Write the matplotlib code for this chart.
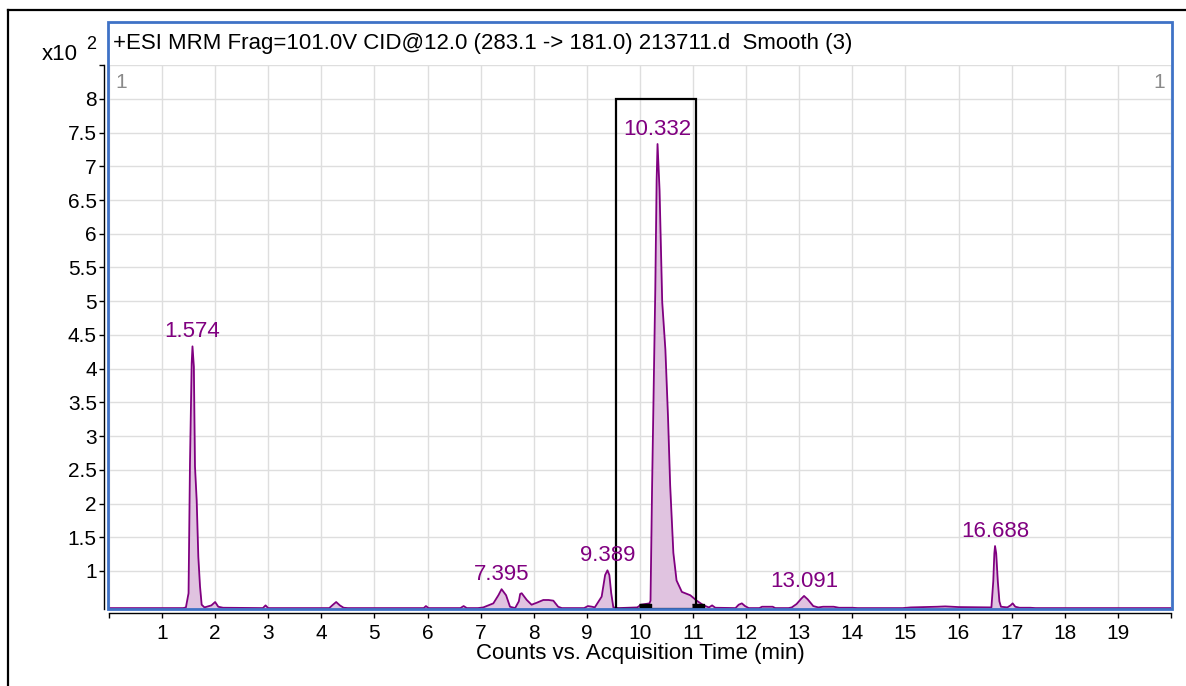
# -*- coding:utf-8 -*-
"""
MRM chromatogram, +ESI 283.1 -> 181.0, smoothed trace with integration box
"""
import numpy as np
import matplotlib
matplotlib.use('Agg')
import matplotlib.pyplot as plt
from matplotlib.patches import Rectangle
from matplotlib.lines import Line2D

plt.rcParams['font.family'] = ['Liberation Sans', 'DejaVu Sans']

# trace: acquisition time (min) vs counts (x10^2)
time_min = [0.0, 1.40, 1.45, 1.50, 1.527, 1.559, 1.574, 1.60, 1.621, 1.653, 1.684, 1.716, 1.747, 1.80,
            1.93, 2.00, 2.06, 2.15, 2.90, 2.95, 3.00, 4.15, 4.22, 4.28, 4.35, 4.42, 4.50,
            5.93, 5.97, 6.02, 6.62, 6.68, 6.74, 6.95, 7.05, 7.24, 7.335, 7.395, 7.48, 7.554, 7.65,
            7.72, 7.745, 7.774, 7.87, 7.96, 8.06, 8.18, 8.28, 8.37, 8.46, 8.53,
            8.95, 9.02, 9.10, 9.15, 9.28, 9.345, 9.389, 9.425, 9.46, 9.50, 9.60,
            9.95, 10.02, 10.10, 10.18, 10.20, 10.23, 10.26, 10.29, 10.315, 10.332, 10.37, 10.42,
            10.48, 10.53, 10.57, 10.63, 10.69, 10.79, 10.95, 11.07, 11.20, 11.30, 11.36, 11.42,
            11.80, 11.86, 11.92, 11.98, 12.05, 12.25, 12.30, 12.50, 12.55,
            12.80, 12.86, 12.95, 13.04, 13.091, 13.16, 13.265, 13.36, 13.45, 13.65, 13.75, 14.0, 14.1,
            14.95, 15.1, 15.6, 15.75, 16.0, 16.55, 16.62, 16.655, 16.675, 16.688, 16.71, 16.74, 16.77,
            16.80, 16.92, 16.98, 17.02, 17.07, 17.15, 17.35, 17.45, 20.0]
counts_e2 = [0.45, 0.45, 0.46, 0.67, 2.60, 4.08, 4.33, 4.03, 2.55, 2.05, 1.21, 0.77, 0.50, 0.46,
             0.49, 0.54, 0.47, 0.455, 0.45, 0.49, 0.45, 0.45, 0.50, 0.54, 0.49, 0.455, 0.45,
             0.45, 0.48, 0.45, 0.45, 0.48, 0.45, 0.45, 0.46, 0.52, 0.64, 0.73, 0.64, 0.47, 0.45,
             0.55, 0.66, 0.67, 0.57, 0.50, 0.53, 0.57, 0.57, 0.56, 0.47, 0.45,
             0.45, 0.48, 0.47, 0.46, 0.62, 0.94, 1.01, 0.94, 0.67, 0.46, 0.45,
             0.46, 0.50, 0.51, 0.52, 0.56, 2.27, 3.77, 5.18, 6.79, 7.33, 6.65, 4.99,
             4.28, 3.27, 2.27, 1.27, 0.86, 0.69, 0.64, 0.56, 0.49, 0.46, 0.49, 0.455,
             0.45, 0.50, 0.52, 0.48, 0.45, 0.45, 0.47, 0.47, 0.45,
             0.45, 0.46, 0.51, 0.59, 0.63, 0.58, 0.48, 0.46, 0.47, 0.47, 0.455, 0.455, 0.45,
             0.45, 0.46, 0.47, 0.475, 0.465, 0.46, 0.46, 0.85, 1.26, 1.37, 1.26, 0.85, 0.55,
             0.47, 0.46, 0.49, 0.52, 0.47, 0.455, 0.455, 0.45, 0.45]

# labelled peaks (retention times)
peak_rt = [1.574, 7.395, 9.389, 10.332, 13.091, 16.688]

# integration window of the selected peak
int_window = (9.55, 11.06)
int_top = 8.0
int_marks = [10.10, 11.09]
int_mark_level = 0.465

x_ticks = list(range(0, 21))
y_ticks = [1, 1.5, 2, 2.5, 3, 3.5, 4, 4.5, 5, 5.5, 6, 6.5, 7, 7.5, 8, 8.5]

title = '+ESI MRM Frag=101.0V CID@12.0 (283.1 -> 181.0) 213711.d  Smooth (3)'
xlabel = 'Counts vs. Acquisition Time (min)'

PURPLE = '#800080'
FILL = '#e0c3e0'
BLUE = '#3f72c6'

W, H = 1186, 686
fig = plt.figure(figsize=(W / 100, H / 100), dpi=100)
fig.patch.set_facecolor('white')


def px(x, y):
    # pixel (from top-left) -> figure fraction
    return x / W, 1 - y / H


ax_l, ax_r, ax_t, ax_b = 108.9, 1170.9, 65.1, 609.3
ax = fig.add_axes([ax_l / W, 1 - ax_b / H, (ax_r - ax_l) / W, (ax_b - ax_t) / H])
ymin = 0.432
ax.set_xlim(0, 20)
ax.set_ylim(ymin, 8.5)

t = np.array(time_min)
c = np.array(counts_e2)
ax.fill_between(t, c, ymin, color=FILL, lw=0, zorder=2)
ax.plot(t, c, color=PURPLE, lw=1.3, zorder=3)

for rt in peak_rt:
    h = np.interp(rt, t, c)
    ax.annotate('%.3f' % rt, (rt, h), xytext=(0, 3), textcoords='offset points',
                ha='center', va='bottom', color=PURPLE, fontsize=16, zorder=5)

# integration box + start/end markers
ax.add_patch(Rectangle((int_window[0], ymin), int_window[1] - int_window[0], int_top - ymin,
                       fill=False, edgecolor='black', lw=1.6, zorder=4))
mark = [(-1, -0.5), (1, -0.5), (1, 0.5), (-1, 0.5)]
ax.plot(int_marks, [int_mark_level] * len(int_marks), ls='none', marker=mark,
        markersize=8, color='black', zorder=6)

ax.set_xticks(x_ticks)
ax.set_xticklabels(['' if v in (0, 20) else str(v) for v in x_ticks])
ax.set_yticks(y_ticks)
ax.set_yticklabels(['' if v == 8.5 else ('%g' % v) for v in y_ticks])
ax.grid(True, color='#dedede', lw=1.0, zorder=0)
ax.set_axisbelow(True)

for s in ('top', 'right'):
    ax.spines[s].set_visible(False)
ax.spines['left'].set_position(('outward', 3.6))
ax.spines['bottom'].set_position(('outward', 2.7))
ax.spines['left'].set_linewidth(1.0)
ax.spines['bottom'].set_linewidth(1.0)
ax.tick_params(axis='both', direction='out', length=3.6, width=1.0, labelsize=15, colors='black')
ax.tick_params(axis='y', pad=1.5)
ax.tick_params(axis='x', pad=4.0)
ax.set_xlabel(xlabel, fontsize=16)
ax.xaxis.set_label_coords(0.5, -(654 - ax_b) / (ax_b - ax_t))
ax.xaxis.label.set_va('center')

# trace numbers in the plot corners
ax.text(0.006, 0.985, '1', transform=ax.transAxes, ha='left', va='top', color='#8a8a8a', fontsize=15)
ax.text(0.994, 0.985, '1', transform=ax.transAxes, ha='right', va='top', color='#8a8a8a', fontsize=15)

# blue frame around title + plot
x0, y0 = px(108, 609.3)
x1, y1 = px(1172, 22)
fig.add_artist(Rectangle((x0, y0), x1 - x0, y1 - y0, transform=fig.transFigure,
                         fill=False, edgecolor=BLUE, lw=2.0, zorder=10))
fig.text(*px(113, 43), title, ha='left', va='center', fontsize=16)

# y multiplier
fig.text(*px(42, 60), 'x10', ha='left', va='baseline', fontsize=16)
fig.text(*px(86, 49), '2', ha='left', va='baseline', fontsize=13)

# outer black frame
fig.add_artist(Line2D([px(8, 0)[0], 1.0], [px(0, 10)[1]] * 2, transform=fig.transFigure,
                      color='black', lw=1.6))
fig.add_artist(Line2D([px(8, 0)[0]] * 2, [px(0, 10)[1], 0.0], transform=fig.transFigure,
                      color='black', lw=1.6))

fig.savefig('out.png', dpi=100)
